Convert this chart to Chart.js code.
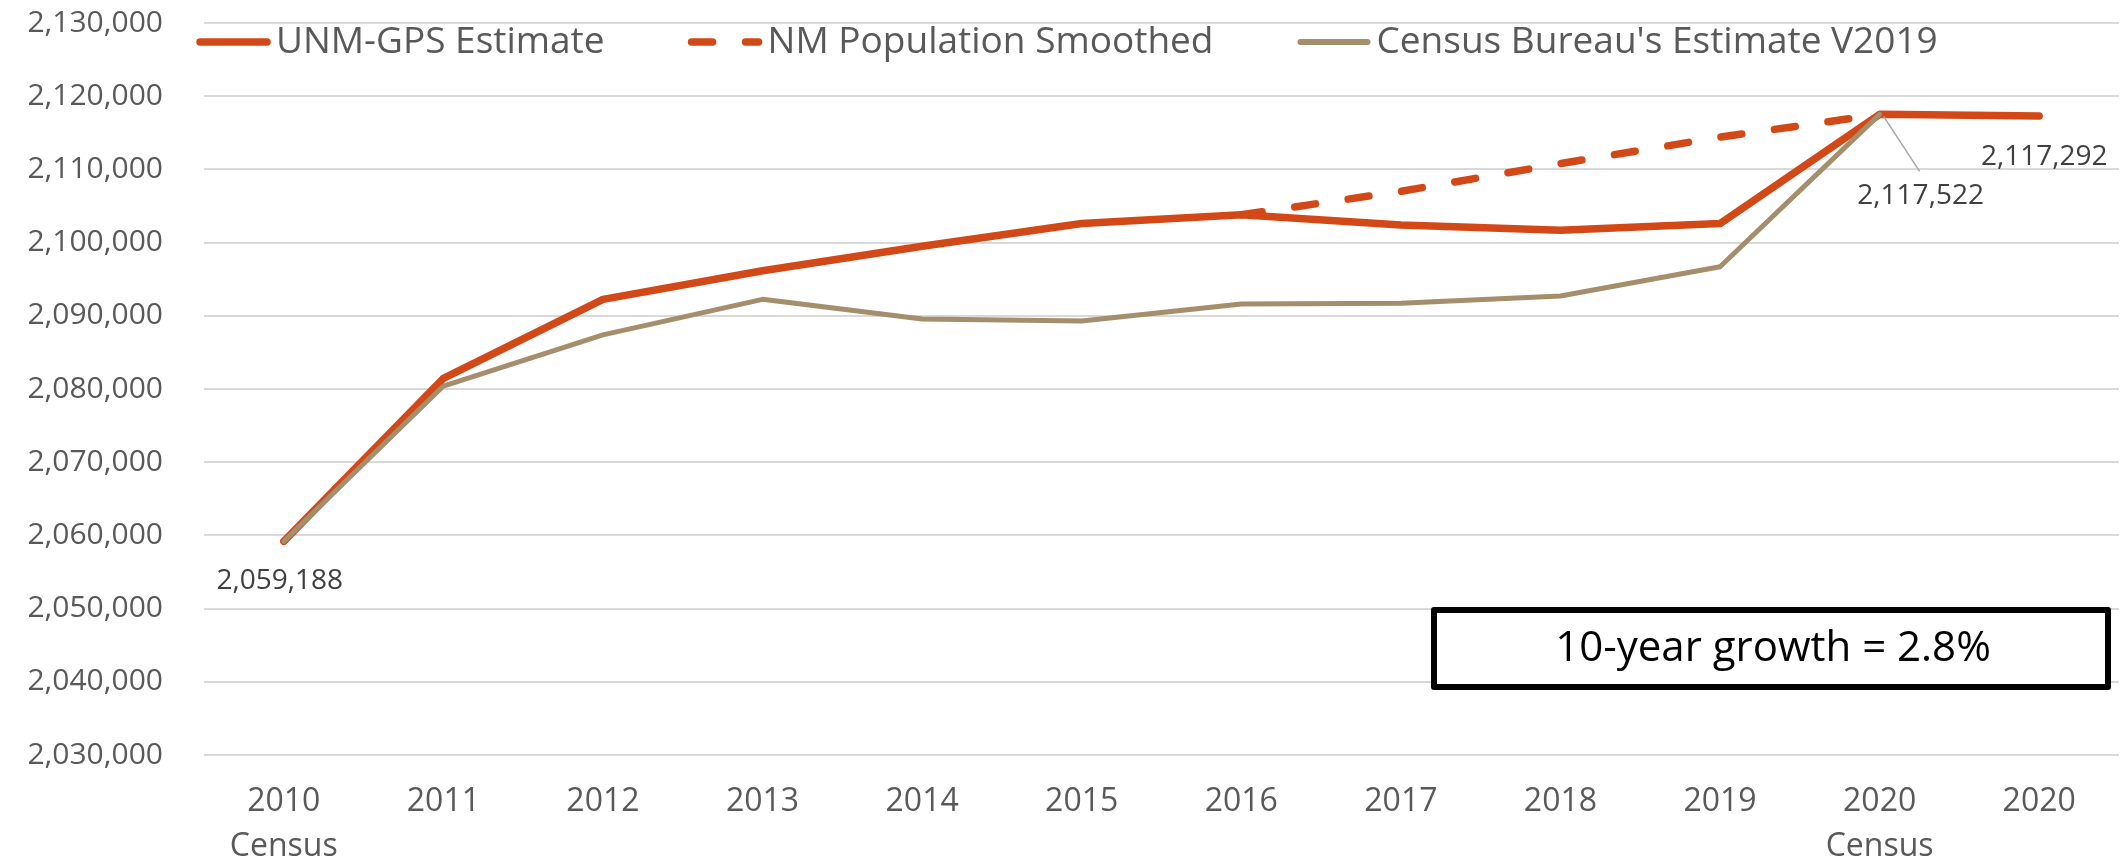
<!DOCTYPE html>
<html>
<head>
<meta charset="utf-8">
<script src="https://cdn.jsdelivr.net/npm/chart.js@4.4.1/dist/chart.umd.min.js"></script>
<style>
  html, body { margin: 0; padding: 0; background: #fff; }
  #wrap { width: 2124px; height: 865px; }
</style>
</head>
<body>
<div id="wrap"><canvas id="popChart" width="2124" height="865"></canvas></div>
<script>
// Chart data
const years = [
  ['2010', 'Census'], '2011', '2012', '2013', '2014', '2015',
  '2016', '2017', '2018', '2019', ['2020', 'Census'], '2020',
];
const unmGps = [
  2059188, 2081460, 2092250, 2096160, 2099500, 2102600,
  2103800, 2102400, 2101700, 2102600, 2117522, 2117292,
];
const nmSmoothed = [
  null, null, null, null, null, null,
  2103800, 2107000, 2110800, 2114400, 2117522, null,
];
const censusV2019 = [
  2059188, 2080400, 2087400, 2092250, 2089560, 2089300,
  2091600, 2091700, 2092700, 2096700, 2117522, null,
];
const yMin = 2030000;
const yMax = 2130000;
const yStep = 10000;
const growthNote = '10-year growth = 2.8%';

const ORANGE = '#D24817';
const TAN = '#A48E6C';
const FONT = "'Open Sans', sans-serif";

const fmt = (v) => v.toLocaleString('en-US');

// Legend drawn inside the plot, over the top band
const insideLegend = {
  id: 'insideLegend',
  afterDraw(chart) {
    const { ctx } = chart;
    const y = 42;
    let x = 197;
    ctx.save();
    ctx.font = `37px ${FONT}`;
    ctx.textBaseline = 'middle';
    ctx.fillStyle = '#595959';
    chart.data.datasets.forEach((ds) => {
      ctx.beginPath();
      ctx.strokeStyle = ds.borderColor;
      ctx.lineWidth = ds.legendWidth || ds.borderWidth;
      ctx.lineCap = 'round';
      ctx.setLineDash(ds.borderDash || []);
      ctx.moveTo(x + 3, y);
      ctx.lineTo(x + 70, y);
      ctx.stroke();
      ctx.setLineDash([]);
      ctx.fillText(ds.label, x + 79, y);
      x += 79 + ctx.measureText(ds.label).width + 84;
    });
    ctx.restore();
  },
};

// Value labels, leader line and the growth note box
const notes = {
  id: 'notes',
  afterDraw(chart) {
    const { ctx } = chart;
    const unmMeta = chart.getDatasetMeta(0);
    const cenMeta = chart.getDatasetMeta(2);
    ctx.save();
    ctx.font = `28px ${FONT}`;
    ctx.fillStyle = '#404040';
    ctx.textAlign = 'center';
    ctx.textBaseline = 'middle';

    const p0 = unmMeta.data[0];
    ctx.fillText(fmt(unmGps[0]), p0.x - 4, p0.y + 40);

    const pLast = unmMeta.data[unmGps.length - 1];
    ctx.fillText(fmt(unmGps[unmGps.length - 1]), pLast.x + 5, pLast.y + 41);

    const pc = cenMeta.data[10];
    ctx.beginPath();
    ctx.strokeStyle = '#A6A6A6';
    ctx.lineWidth = 1.5;
    ctx.moveTo(pc.x + 4, pc.y + 2);
    ctx.lineTo(pc.x + 40, pc.y + 57);
    ctx.stroke();
    ctx.fillText(fmt(censusV2019[10]), pc.x + 41, pc.y + 82);

    // growth box
    const bx = 1434, by = 610, bw = 674, bh = 77;
    ctx.beginPath();
    ctx.lineWidth = 6;
    ctx.strokeStyle = '#000';
    ctx.lineJoin = 'round';
    ctx.fillStyle = '#fff';
    ctx.rect(bx, by, bw, bh);
    ctx.fill();
    ctx.stroke();
    ctx.fillStyle = '#000';
    ctx.font = `42px ${FONT}`;
    ctx.fillText(growthNote, bx + bw / 2 + 2, by + bh / 2 + 1);
    ctx.restore();
  },
};

Chart.defaults.font.family = FONT;

new Chart(document.getElementById('popChart'), {
  type: 'line',
  data: {
    labels: years,
    datasets: [
      {
        label: 'UNM-GPS Estimate',
        data: unmGps,
        borderColor: ORANGE,
        borderWidth: 7.5,
        order: 1,
      },
      {
        label: 'NM Population Smoothed',
        data: nmSmoothed,
        borderColor: ORANGE,
        borderWidth: 7.5,
        borderDash: [21, 33],
        borderCapStyle: 'round',
        order: 2,
      },
      {
        label: "Census Bureau's Estimate V2019",
        data: censusV2019,
        borderColor: TAN,
        borderWidth: 5,
        legendWidth: 6,
        order: 0,
      },
    ],
  },
  options: {
    responsive: false,
    animation: false,
    devicePixelRatio: 1,
    layout: { padding: { top: 23, right: 5, bottom: 0, left: 0 } },
    elements: {
      point: { radius: 0, hoverRadius: 0 },
      line: { tension: 0, borderCapStyle: 'round', borderJoinStyle: 'round', fill: false },
    },
    scales: {
      x: {
        offset: true,
        grid: { display: false, drawTicks: false },
        border: { display: false },
        ticks: {
          color: '#595959',
          font: { size: 32, lineHeight: 1.42 },
          padding: 24,
          maxRotation: 0,
          autoSkip: false,
        },
        afterFit: (scale) => { scale.height = 110; },
      },
      y: {
        min: yMin,
        max: yMax,
        grid: { color: '#D9D9D9', lineWidth: 2, drawTicks: false },
        border: { display: false },
        ticks: {
          stepSize: yStep,
          color: '#595959',
          font: { size: 30 },
          padding: 41,
          callback: (v) => fmt(v),
        },
        afterFit: (scale) => {
          scale.width = 204;
          scale.paddingTop = 16;
          scale.paddingBottom = 16;
        },
      },
    },
    plugins: {
      legend: { display: false },
      tooltip: { enabled: false },
    },
  },
  plugins: [insideLegend, notes],
});
</script>
</body>
</html>
